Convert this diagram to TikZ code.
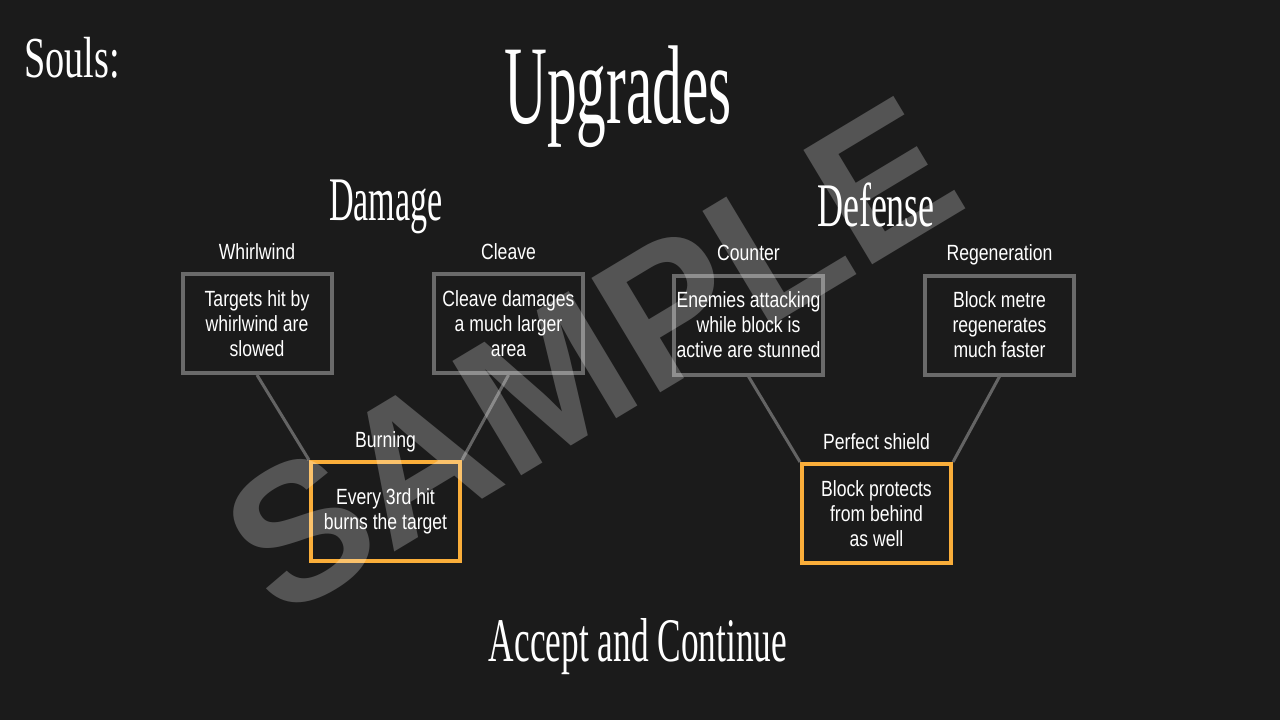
\documentclass[tikz,border=0pt]{standalone}
\usepackage{fontspec}
\usepackage{tikz, xcolor}
\usetikzlibrary{positioning}
\newfontfamily\uifont{Liberation Sans}[FakeStretch=0.8]
\newfontfamily\markfont{Liberation Sans}[BoldFont={Liberation Sans Bold}]
\newfontfamily\titlefont{Liberation Serif}

\definecolor{bgdark}{RGB}{27,27,27}
\definecolor{boxgray}{RGB}{106,106,106}
\definecolor{linkgray}{RGB}{100,100,100}
\definecolor{pickorange}{RGB}{250,174,58}

\tikzset{
    upbox/.style={draw=boxgray, line width=4pt, minimum width=149pt, minimum height=99pt,
        inner sep=0pt, align=center, text=white, font=\uifont\fontsize{22}{25}\selectfont},
    pickbox/.style={upbox, draw=pickorange},
    lbl/.style={text=white, inner sep=0pt, anchor=base, font=\uifont\fontsize{22}{25}\selectfont},
    gothic/.style={text=white, inner sep=0pt},
    link/.style={draw=linkgray, line width=3pt}
}

\begin{document}
\begin{tikzpicture}[x=1pt, y=-1pt]
    % Background
    \fill[bgdark] (0,0) rectangle (1280,720);
    \useasboundingbox (0,0) rectangle (1280,720);

    % Titles
    \node[gothic, font=\titlefont\fontsize{58}{58}\selectfont, xscale=0.66] (souls) at (72,58) {Souls:};
    \node[gothic, font=\titlefont\fontsize{112}{112}\selectfont, xscale=0.53] (title) at (618,97) {Upgrades};
    \node[gothic, font=\titlefont\fontsize{62}{62}\selectfont, xscale=0.55] (damage) at (386,207) {Damage};
    \node[gothic, font=\titlefont\fontsize{62}{62}\selectfont, xscale=0.58] (defense) at (876,205) {Defense};
    \node[gothic, font=\titlefont\fontsize{62}{62}\selectfont, xscale=0.57] (accept) at (638,647) {Accept and Continue};

    % Damage tree
    \node[upbox] (whirl) at (257,323.5) {Targets hit by\\whirlwind are\\slowed};
    \node[upbox] (cleave) at (508.5,323.5) {Cleave damages\\a much larger\\area};
    \node[pickbox] (burn) at (385.5,511.5) {Every 3rd hit\\burns the target};

    % Defense tree
    \node[upbox] (counter) at (748.5,325) {Enemies attacking\\while block is\\active are stunned};
    \node[upbox] (regen) at (999.5,325) {Block metre\\regenerates\\much faster};
    \node[pickbox] (shield) at (876.5,513.5) {Block protects\\from behind\\as well};

    % Labels above the boxes
    \node[lbl] (whirllbl) at ([yshift=13pt]whirl.north) {Whirlwind};
    \node[lbl] (cleavelbl) at ([yshift=13pt]cleave.north) {Cleave};
    \node[lbl] (burnlbl) at ([yshift=13pt]burn.north) {Burning};
    \node[lbl] (counterlbl) at ([yshift=13pt]counter.north) {Counter};
    \node[lbl] (regenlbl) at ([yshift=13pt]regen.north) {Regeneration};
    \node[lbl] (shieldlbl) at ([yshift=13pt]shield.north) {Perfect shield};

    % Connectors
    \draw[link] (whirl.south) -- (burn.north west);
    \draw[link] (cleave.south) -- (burn.north east);
    \draw[link] (counter.south) -- (shield.north west);
    \draw[link] (regen.south) -- (shield.north east);

    % Watermark
    \node[text=white, text opacity=0.25, inner sep=0pt, rotate=31,
        font=\markfont\bfseries\fontsize{194}{194}\selectfont] (sample) at (592,356) {SAMPLE};
\end{tikzpicture}
\end{document}
